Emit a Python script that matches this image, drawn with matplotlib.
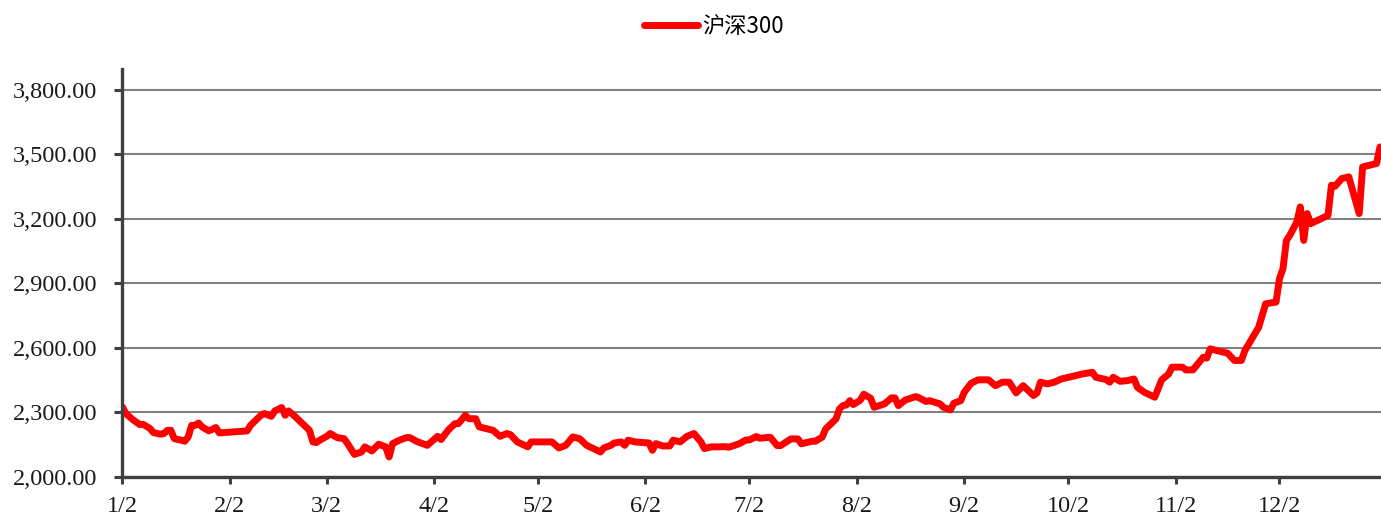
import matplotlib
matplotlib.use("Agg")
import matplotlib.pyplot as plt
import matplotlib.dates as mdates
import pandas as pd
from matplotlib.ticker import FuncFormatter

series_name = "沪深300"

dates = [
    "01-02", "01-03", "01-05", "01-07", "01-08", "01-10", "01-11", "01-13", "01-14", "01-15",
    "01-16", "01-17", "01-19", "01-20", "01-21", "01-22", "01-23", "01-24", "01-25", "01-27",
    "01-29", "01-30", "02-07", "02-08", "02-10", "02-11", "02-12", "02-14", "02-15", "02-17",
    "02-18", "02-19", "02-21", "02-23", "02-25", "02-26", "02-27", "02-28", "03-02", "03-03",
    "03-05", "03-07", "03-08", "03-10", "03-12", "03-13", "03-15", "03-17", "03-19", "03-20",
    "03-21", "03-23", "03-25", "03-26", "03-28", "03-31", "04-03", "04-04", "04-06", "04-08",
    "04-09", "04-11", "04-12", "04-14", "04-15", "04-17", "04-19", "04-21", "04-23", "04-24",
    "04-26", "04-29", "04-30", "05-06", "05-08", "05-10", "05-12", "05-14", "05-16", "05-18",
    "05-20", "05-21", "05-23", "05-24", "05-26", "05-27", "05-28", "05-30", "06-03", "06-04",
    "06-05", "06-07", "06-09", "06-10", "06-12", "06-14", "06-16", "06-18", "06-19", "06-21",
    "06-23", "06-25", "06-26", "06-29", "07-01", "07-02", "07-04", "07-05", "07-08", "07-10",
    "07-11", "07-14", "07-16", "07-17", "07-20", "07-21", "07-23", "07-24", "07-25", "07-27",
    "07-28", "07-29", "07-30", "07-31", "08-01", "08-03", "08-04", "08-06", "08-07", "08-10",
    "08-12", "08-13", "08-14", "08-16", "08-19", "08-20", "08-22", "08-23", "08-26", "08-27",
    "08-29", "08-30", "09-01", "09-02", "09-04", "09-06", "09-09", "09-11", "09-13", "09-15",
    "09-17", "09-19", "09-22", "09-23", "09-24", "09-26", "09-28", "09-30", "10-03", "10-06",
    "10-09", "10-10", "10-13", "10-14", "10-15", "10-17", "10-19", "10-21", "10-22", "10-24",
    "10-27", "10-29", "10-31", "11-01", "11-04", "11-05", "11-07", "11-10", "11-11", "11-12",
    "11-14", "11-17", "11-19", "11-21", "11-22", "11-24", "11-26", "11-27", "11-28", "12-01",
    "12-02", "12-03", "12-04", "12-05", "12-07", "12-08", "12-09", "12-10", "12-11", "12-14",
    "12-16", "12-17", "12-18", "12-20", "12-22", "12-25", "12-26", "12-30", "12-31",
]

values = [
    2325, 2294, 2266, 2243, 2244, 2224, 2205, 2198, 2201, 2216,
    2216, 2177, 2170, 2165, 2185, 2239, 2239, 2250, 2232, 2213,
    2229, 2204, 2213, 2239, 2270, 2286, 2294, 2281, 2306, 2322,
    2286, 2306, 2278, 2247, 2216, 2162, 2159, 2170, 2188, 2201,
    2182, 2177, 2154, 2104, 2115, 2139, 2120, 2151, 2139, 2092,
    2154, 2170, 2182, 2182, 2164, 2146, 2188, 2173, 2216, 2247,
    2247, 2286, 2270, 2270, 2232, 2224, 2216, 2188, 2201, 2196,
    2162, 2139, 2162, 2162, 2134, 2146, 2185, 2177, 2146, 2131,
    2115, 2134, 2146, 2157, 2162, 2146, 2170, 2162, 2157, 2123,
    2154, 2143, 2143, 2170, 2162, 2188, 2201, 2162, 2131, 2139,
    2139, 2140, 2137, 2153, 2171, 2171, 2187, 2179, 2184, 2145,
    2145, 2176, 2176, 2153, 2165, 2165, 2184, 2222, 2238, 2269,
    2316, 2331, 2334, 2354, 2336, 2356, 2384, 2365, 2323, 2339,
    2367, 2367, 2331, 2357, 2373, 2367, 2350, 2354, 2339, 2323,
    2311, 2342, 2354, 2393, 2435, 2451, 2451, 2424, 2440, 2440,
    2390, 2424, 2378, 2390, 2440, 2432, 2440, 2455, 2466, 2478,
    2486, 2463, 2452, 2440, 2463, 2444, 2447, 2455, 2416, 2393,
    2370, 2451, 2478, 2510, 2510, 2497, 2497, 2556, 2552, 2595,
    2587, 2575, 2541, 2541, 2587, 2642, 2696, 2751, 2805, 2813,
    2922, 2968, 3100, 3124, 3186, 3256, 3100, 3225, 3178, 3201,
    3217, 3357, 3352, 3388, 3396, 3225, 3442, 3458, 3535,
]

year = 2014
x_tick_dates = ["01-02", "02-02", "03-02", "04-02", "05-02", "06-02",
                "07-02", "08-02", "09-02", "10-02", "11-02", "12-02"]
x_tick_labels = ["1/2", "2/2", "3/2", "4/2", "5/2", "6/2",
                 "7/2", "8/2", "9/2", "10/2", "11/2", "12/2"]
y_ticks = [2000, 2300, 2600, 2900, 3200, 3500, 3800]

W, H = 1381, 515
fig = plt.figure(figsize=(W / 100, H / 100), dpi=100)
ax = fig.add_axes([122 / W, (H - 476.7) / H, (W - 122) / W, (476.7 - 69) / H])

x = pd.to_datetime([f"{year}-{d}" for d in dates])
line, = ax.plot(x, values, color="#FF0000", lw=5.0, solid_capstyle="round",
                solid_joinstyle="round", label=series_name, zorder=3)

ax.set_ylim(2000, 3898)
ax.set_xlim(mdates.date2num(pd.Timestamp(f"{year}-01-02")) - 0.1,
            mdates.date2num(pd.Timestamp(f"{year}-12-31")) + 0.3)

ax.set_yticks(y_ticks)
ax.yaxis.set_major_formatter(FuncFormatter(lambda v, p: f"{v:,.2f}"))
ax.set_xticks(pd.to_datetime([f"{year}-{d}" for d in x_tick_dates]))
ax.set_xticklabels(x_tick_labels)

ax.grid(axis="y", color="#808080", lw=1.5, zorder=1)
ax.grid(axis="x", visible=False)
ax.set_axisbelow(True)

for s in ["top", "right"]:
    ax.spines[s].set_visible(False)
for s in ["left", "bottom"]:
    ax.spines[s].set_color("#404040")
    ax.spines[s].set_linewidth(2.4)
    ax.spines[s].set_zorder(4)

ax.tick_params(axis="y", direction="out", length=6, width=2.2, color="#404040",
               pad=12, labelcolor="#1a1a1a")
ax.tick_params(axis="x", direction="out", length=5, width=2.2, color="#404040",
               pad=9, labelcolor="#1a1a1a")
for lab in ax.get_yticklabels() + ax.get_xticklabels():
    lab.set_fontfamily(["Liberation Serif", "DejaVu Serif"])
    lab.set_fontsize(17.5)

fig.legend(handles=[line], labels=[series_name], loc="center",
           bbox_to_anchor=(0.517, 0.949), frameon=False, handlelength=2.4,
           handletextpad=0.2, prop={"family": ["Noto Sans CJK SC", "DejaVu Sans"], "size": 16})

fig.savefig("out.png", dpi=100)
